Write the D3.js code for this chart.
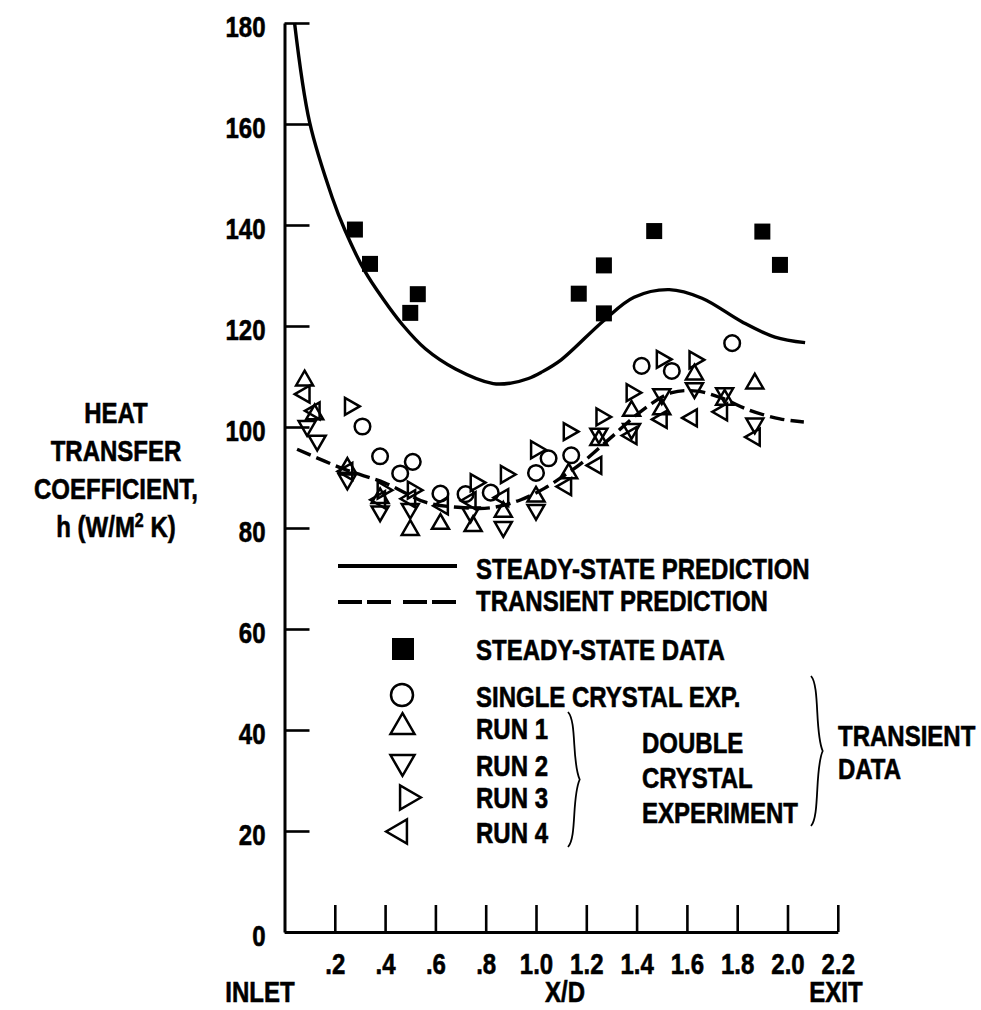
<!DOCTYPE html>
<html>
<head>
<meta charset="utf-8">
<script src="https://cdn.jsdelivr.net/npm/d3@7"></script>
<style>
  html, body { margin: 0; padding: 0; background: #fff; }
  svg { display: block; }
  text {
    font-family: "Liberation Sans", Arial, Helvetica, sans-serif;
    font-weight: bold;
    fill: #000;
    stroke: #000;
    stroke-width: 0.6px;
  }
</style>
</head>
<body>
<svg id="chart" width="981" height="1010"></svg>
<script>
// ---- axis ticks ----
const xTicks = [0.2, 0.4, 0.6, 0.8, 1.0, 1.2, 1.4, 1.6, 1.8, 2.0, 2.2];
const xTickLabels = [".2", ".4", ".6", ".8", "1.0", "1.2", "1.4", "1.6", "1.8", "2.0", "2.2"];
const yTicks = [0, 20, 40, 60, 80, 100, 120, 140, 160, 180];
const yTickLabels = ["0", "20", "40", "60", "80", "100", "120", "140", "160", "180"];

// ---- steady-state prediction (solid curve) ----
const steadyPredX = [0.04, 0.10, 0.19, 0.24, 0.32, 0.39, 0.47, 0.56, 0.68, 0.83, 0.90, 0.97, 1.02, 1.10, 1.27, 1.39, 1.53, 1.66, 1.82, 1.95, 2.07];
const steadyPredH = [180, 160.3, 145.4, 139, 130.8, 125.5, 120.2, 115.5, 111.5, 108.6, 108.7, 109.6, 110.8, 113.3, 121.1, 125.7, 127.2, 125.5, 120.8, 117.8, 116.7];

// ---- transient prediction (dashed curve) ----
const transPredX = [0.05, 0.24, 0.40, 0.56, 0.69, 0.82, 0.94, 1.035, 1.115, 1.18, 1.30, 1.42, 1.54, 1.64, 1.74, 1.85, 1.97, 2.065];
const transPredH = [95.6, 91.6, 88.9, 85.1, 84.1, 84.0, 85.6, 87.9, 90.5, 92.8, 98.0, 103.2, 106.8, 107.1, 105.7, 103.3, 101.6, 101.0];

// ---- steady-state data ----
const steadyX = [0.28, 0.34, 0.50, 0.53, 1.17, 1.27, 1.27, 1.47, 1.90, 1.97];
const steadyH = [139.1, 132.3, 122.6, 126.3, 126.4, 122.5, 132.0, 138.8, 138.7, 132.1];

// ---- single crystal experiment ----
const crystalX = [0.31, 0.38, 0.46, 0.51, 0.62, 0.72, 0.82, 1.00, 1.05, 1.14, 1.42, 1.54, 1.78];
const crystalH = [100.1, 94.2, 90.8, 93.1, 86.8, 86.7, 87.0, 90.9, 93.8, 94.4, 112.1, 111.1, 116.6];

// ---- double crystal experiment, runs 1-4 ----
const run1X = [0.08, 0.12, 0.25, 0.38, 0.50, 0.62, 0.75, 0.87, 1.00, 1.13, 1.25, 1.38, 1.50, 1.63, 1.75, 1.87];
const run1H = [109.2, 102.5, 91.9, 85.9, 79.6, 80.8, 80.4, 83.2, 86.2, 90.8, 97.4, 103.2, 103.5, 110.4, 105.4, 108.6];
const run2X = [0.09, 0.13, 0.25, 0.38, 0.50, 0.74, 0.87, 1.00, 1.25, 1.38, 1.50, 1.63, 1.75, 1.87];
const run2H = [100.2, 97.3, 89.6, 83.3, 83.8, 83.1, 80.2, 83.6, 98.7, 99.6, 106.5, 107.7, 106.7, 100.7];
const run3X = [0.26, 0.39, 0.51, 0.76, 0.88, 1.00, 1.13, 1.26, 1.38, 1.50, 1.63];
const run3H = [104.1, 87.5, 87.5, 89.0, 90.6, 95.5, 99.1, 102.0, 106.8, 113.4, 113.3];
const run4X = [0.08, 0.12, 0.25, 0.38, 0.50, 0.63, 0.74, 0.87, 1.12, 1.24, 1.38, 1.50, 1.62, 1.74, 1.87];
const run4H = [106.5, 103.2, 91.2, 85.6, 85.8, 84.4, 85.4, 86.0, 88.2, 92.4, 98.3, 101.5, 101.8, 103.0, 98.0];

// ---- labels ----
const yTitleLines = ["HEAT", "TRANSFER", "COEFFICIENT,"];
const legendLabels = ["STEADY-STATE PREDICTION", "TRANSIENT PREDICTION", "STEADY-STATE DATA",
                      "SINGLE CRYSTAL EXP.", "RUN 1", "RUN 2", "RUN 3", "RUN 4"];
const groupLabel = ["DOUBLE", "CRYSTAL", "EXPERIMENT"];
const outerLabel = ["TRANSIENT", "DATA"];

// condensed lettering: bold sans squeezed horizontally
const SQ = 0.80;
const FS = 30;

const svg = d3.select("#chart");
svg.append("rect").attr("width", 981).attr("height", 1010).attr("fill", "#fff");

function label(parent, x0, y0, str, anchor) {
  const t = parent.append("g").attr("transform", `translate(${x0},${y0}) scale(${SQ},1)`)
    .append("text").attr("font-size", FS).attr("text-anchor", anchor || "start");
  if (str !== null) t.text(str);
  return t;
}

const x = d3.scaleLinear().domain([0, 2.2]).range([284.5, 837.8]);
const y = d3.scaleLinear().domain([0, 180]).range([932, 23]);

// ---- axes ----
const yAxis = d3.axisLeft(y)
  .tickValues(yTicks)
  .tickFormat((d, i) => yTickLabels[i])
  .tickSizeInner(-25).tickSizeOuter(0).tickPadding(19);
const gy = svg.append("g").attr("transform", `translate(${x(0)},0)`).call(yAxis);

const xAxis = d3.axisBottom(x)
  .tickValues(xTicks)
  .tickFormat((d, i) => xTickLabels[i])
  .tickSizeInner(-27).tickSizeOuter(0).tickPadding(21);
const gx = svg.append("g").attr("transform", `translate(0,${y(0)})`).call(xAxis);

[gx, gy].forEach(g => {
  g.attr("font-family", null).attr("font-size", null);
  g.select(".domain").attr("stroke", "#000").attr("stroke-width", 3);
  g.selectAll(".tick line").attr("stroke", "#000").attr("stroke-width", 2.6);
  g.selectAll(".tick text").attr("font-size", FS).attr("fill", "#000");
});
gy.selectAll(".tick text").attr("dy", "0.46em")
  .attr("x", -19 / SQ).attr("transform", `scale(${SQ},1)`);
gx.selectAll(".tick text").attr("dy", "0.71em").attr("transform", `scale(${SQ},1)`);

// x-axis captions
label(svg, 260, 1002, "INLET", "middle");
label(svg, 565, 1002, "X/D", "middle");
label(svg, 836, 1002, "EXIT", "middle");

// y-axis title
const titleX = 116;
[423, 461, 499].forEach((b, i) => label(svg, titleX, b, yTitleLines[i], "middle"));
const hLine = label(svg, titleX, 537, null, "middle");
hLine.append("tspan").text("h (W/M");
hLine.append("tspan").attr("font-size", 20).attr("dy", -10).text("2");
hLine.append("tspan").attr("dy", 10).text(" K)");

// ---- curves ----
const toPts = (xs, hs) => xs.map((v, i) => [v, hs[i]]);
const line = d3.line().x(d => x(d[0])).y(d => y(d[1])).curve(d3.curveCatmullRom.alpha(0.5));

svg.append("path").attr("d", line(toPts(steadyPredX, steadyPredH)))
  .attr("fill", "none").attr("stroke", "#000").attr("stroke-width", 3.4);
svg.append("path").attr("d", line(toPts(transPredX, transPredH)))
  .attr("fill", "none").attr("stroke", "#000").attr("stroke-width", 3.4)
  .attr("stroke-dasharray", "15,6");

// ---- markers ----
const triSide = 17;
const tri = d3.symbol().type(d3.symbolTriangle).size(triSide * triSide * Math.sqrt(3) / 4);
const runs = [
  { xs: run1X, hs: run1H, rot: 0 },
  { xs: run2X, hs: run2H, rot: 180 },
  { xs: run3X, hs: run3H, rot: 90 },
  { xs: run4X, hs: run4H, rot: -90 }
];
runs.forEach(r => {
  svg.append("g").selectAll("path").data(toPts(r.xs, r.hs)).join("path")
    .attr("d", tri())
    .attr("transform", d => `translate(${x(d[0])},${y(d[1])}) rotate(${r.rot})`)
    .attr("fill", "none").attr("stroke", "#000").attr("stroke-width", 2.5);
});

svg.append("g").selectAll("circle").data(toPts(crystalX, crystalH)).join("circle")
  .attr("cx", d => x(d[0])).attr("cy", d => y(d[1])).attr("r", 7.8)
  .attr("fill", "none").attr("stroke", "#000").attr("stroke-width", 2.5);

svg.append("g").selectAll("rect").data(toPts(steadyX, steadyH)).join("rect")
  .attr("x", d => x(d[0]) - 8).attr("y", d => y(d[1]) - 8)
  .attr("width", 16).attr("height", 16).attr("fill", "#000");

// ---- legend ----
const lg = svg.append("g");
const textX = 476;
const baselines = [579, 611, 660, 707, 739, 776, 808, 843];
legendLabels.forEach((t, i) => label(lg, textX, baselines[i], t));

lg.append("line").attr("x1", 338).attr("x2", 457).attr("y1", 566).attr("y2", 566)
  .attr("stroke", "#000").attr("stroke-width", 4);
lg.append("line").attr("x1", 338).attr("x2", 457).attr("y1", 602).attr("y2", 602)
  .attr("stroke", "#000").attr("stroke-width", 4).attr("stroke-dasharray", "24,5,24,12");
lg.append("rect").attr("x", 392).attr("y", 638).attr("width", 22).attr("height", 22).attr("fill", "#000");
lg.append("circle").attr("cx", 402).attr("cy", 695).attr("r", 11)
  .attr("fill", "none").attr("stroke", "#000").attr("stroke-width", 2.5);
const bigTri = d3.symbol().type(d3.symbolTriangle).size(24 * 24 * Math.sqrt(3) / 4);
[[402.5, 727, 0], [402.5, 762, 180], [407, 797.5, 90], [400, 831.5, -90]].forEach(p => {
  lg.append("path").attr("d", bigTri())
    .attr("transform", `translate(${p[0]},${p[1]}) rotate(${p[2]})`)
    .attr("fill", "none").attr("stroke", "#000").attr("stroke-width", 2.5);
});

groupLabel.forEach((t, i) => label(lg, 642, [753, 788, 823][i], t));
outerLabel.forEach((t, i) => label(lg, 838, [746, 779][i], t));

// curly braces
function brace(x0, y1, y2, w) {
  const m = (y1 + y2) / 2;
  return `M${x0},${y1} C${x0 + w},${y1 + 10} ${x0 + w * 0.4},${m - 18} ${x0 + w * 1.3},${m}` +
         ` C${x0 + w * 0.4},${m + 18} ${x0 + w},${y2 - 10} ${x0},${y2}`;
}
lg.append("path").attr("d", brace(568, 712, 847, 9))
  .attr("fill", "none").attr("stroke", "#000").attr("stroke-width", 1.8);
lg.append("path").attr("d", brace(811, 676, 826, 9))
  .attr("fill", "none").attr("stroke", "#000").attr("stroke-width", 1.8);
</script>
</body>
</html>
